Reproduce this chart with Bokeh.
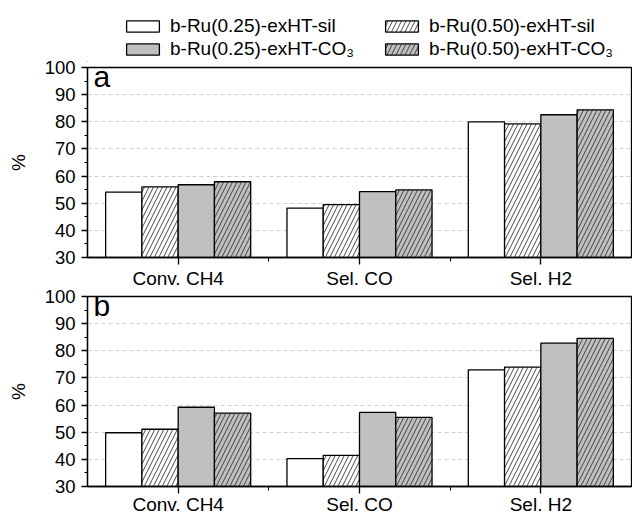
import numpy as np
from bokeh.plotting import figure
from bokeh.models import Range1d, FixedTicker, SingleIntervalTicker, Legend, LegendItem, Label
from bokeh.layouts import column
from bokeh.embed import file_html
from bokeh.resources import INLINE

categories = ["Conv. CH4", "Sel. CO", "Sel. H2"]
series_names = ["b-Ru(0.25)-exHT-sil", "b-Ru(0.50)-exHT-sil",
                "b-Ru(0.25)-exHT-CO\u2083", "b-Ru(0.50)-exHT-CO\u2083"]

# panel a
a_ru025_sil = [54.1, 48.2, 80.0]
a_ru050_sil = [56.0, 49.5, 79.2]
a_ru025_co3 = [56.8, 54.3, 82.6]
a_ru050_co3 = [57.9, 54.9, 84.4]
# panel b
b_ru025_sil = [49.8, 40.3, 73.0]
b_ru050_sil = [51.1, 41.5, 74.0]
b_ru025_co3 = [59.2, 57.3, 82.8]
b_ru050_co3 = [57.0, 55.5, 84.6]

y_min, y_max = 30, 100

FONT = "Liberation Sans"
fills = ["white", "white", "#c0c0c0", "#c0c0c0"]
hatches = [None, "/", None, "/"]
offsets = [-0.3, -0.1, 0.1, 0.3]
bar_w = 0.2


def bar_style(i):
    kw = dict(fill_color=fills[i], line_color="black", line_width=1.3)
    if hatches[i]:
        kw.update(hatch_pattern=hatches[i], hatch_color="#333333", hatch_scale=9,
                  hatch_weight=0.9)
    return kw


# ---- legend strip (its own small figure, key glyphs only) ----
p0 = figure(width=632, height=62, output_backend="svg", toolbar_location=None,
            x_range=Range1d(0, 1), y_range=Range1d(0, 1),
            x_axis_location=None, y_axis_location=None,
            min_border_left=0, min_border_right=0, min_border_top=0, min_border_bottom=0)
p0.grid.visible = False
p0.outline_line_color = None
p0.background_fill_color = "white"
# hidden off-range bars that only serve as legend keys
leg_r = [p0.vbar(x=[-5], bottom=[-5], top=[-4], width=0.1, **bar_style(i)) for i in range(4)]
for row, loc_y in (([0, 1], 25), ([2, 3], 2)):
    items = [LegendItem(label=series_names[i], renderers=[leg_r[i]]) for i in row]
    leg = Legend(items=items, orientation="horizontal",
                 location=(35, loc_y), glyph_width=41, glyph_height=14,
                 label_standoff=7, label_width=211, spacing=0, padding=0, margin=0,
                 label_text_font=FONT, label_text_font_size="19px",
                 label_text_color="black",
                 border_line_alpha=0, background_fill_alpha=0)
    p0.add_layout(leg, "center")


def make_panel(letter, series, height, top_border, bottom_border, std):
    p = figure(width=632, height=height, output_backend="svg", toolbar_location=None,
               x_range=Range1d(0.5, len(categories) + 0.5), y_range=Range1d(y_min, y_max),
               min_border_left=87, min_border_right=1,
               min_border_top=top_border, min_border_bottom=bottom_border)
    p.background_fill_color = "white"
    p.border_fill_alpha = 0
    p.outline_line_color = "black"
    p.outline_line_width = 1.3
    base = np.arange(1, len(categories) + 1)
    for i, (vals, off) in enumerate(zip(series, offsets)):
        p.vbar(x=base + off, width=bar_w, bottom=y_min, top=vals, **bar_style(i))

    p.xaxis.ticker = FixedTicker(ticks=list(range(1, len(categories) + 1)),
                                 minor_ticks=[i + 0.5 for i in range(1, len(categories))])
    p.xaxis.major_label_overrides = {i + 1: c for i, c in enumerate(categories)}
    p.yaxis.ticker = SingleIntervalTicker(interval=10, num_minor_ticks=2)
    for ax in (p.xaxis, p.yaxis):
        ax.axis_line_color = "black"
        ax.axis_line_width = 1.3
        ax.major_tick_line_color = "black"
        ax.major_tick_line_width = 1.3
        ax.minor_tick_line_color = "black"
        ax.minor_tick_line_width = 1.1
        ax.major_tick_in = 0
        ax.minor_tick_in = 0
        ax.major_label_text_font = FONT
        ax.major_label_text_color = "black"
        ax.axis_label_text_font = FONT
        ax.axis_label_text_font_style = "normal"
        ax.axis_label_text_color = "black"
    p.xaxis.major_tick_out = 7
    p.xaxis.minor_tick_out = 4
    p.xaxis.major_label_standoff = std
    p.xaxis.major_label_text_font_size = "19px"
    p.yaxis.major_tick_out = 6
    p.yaxis.minor_tick_out = 3
    p.yaxis.major_label_standoff = 6
    p.yaxis.major_label_text_font_size = "18.5px"
    p.yaxis.axis_label = "%"
    p.yaxis.axis_label_text_font_size = "19px"
    p.yaxis.axis_label_standoff = 13

    p.xgrid.grid_line_color = None
    p.ygrid.grid_line_color = "#cfcfcf"
    p.ygrid.grid_line_dash = "4 3"
    p.ygrid.grid_line_width = 1

    p.add_layout(Label(x=6, y=height - top_border - bottom_border - 25, x_units="screen",
                       y_units="screen", text=letter, text_font=FONT,
                       text_font_size="30px", text_color="black"))
    return p


p1 = make_panel("a", [a_ru025_sil, a_ru050_sil, a_ru025_co3, a_ru050_co3], 236, 12, 34, 3)
p1.margin = (-7, 0, 0, 0)
p2 = make_panel("b", [b_ru025_sil, b_ru050_sil, b_ru025_co3, b_ru050_co3], 235, 14, 31, 0)
p2.margin = (-9, 0, 0, 0)

layout = column(p0, p1, p2, spacing=0)
open("out.html", "w").write(file_html(layout, INLINE))
